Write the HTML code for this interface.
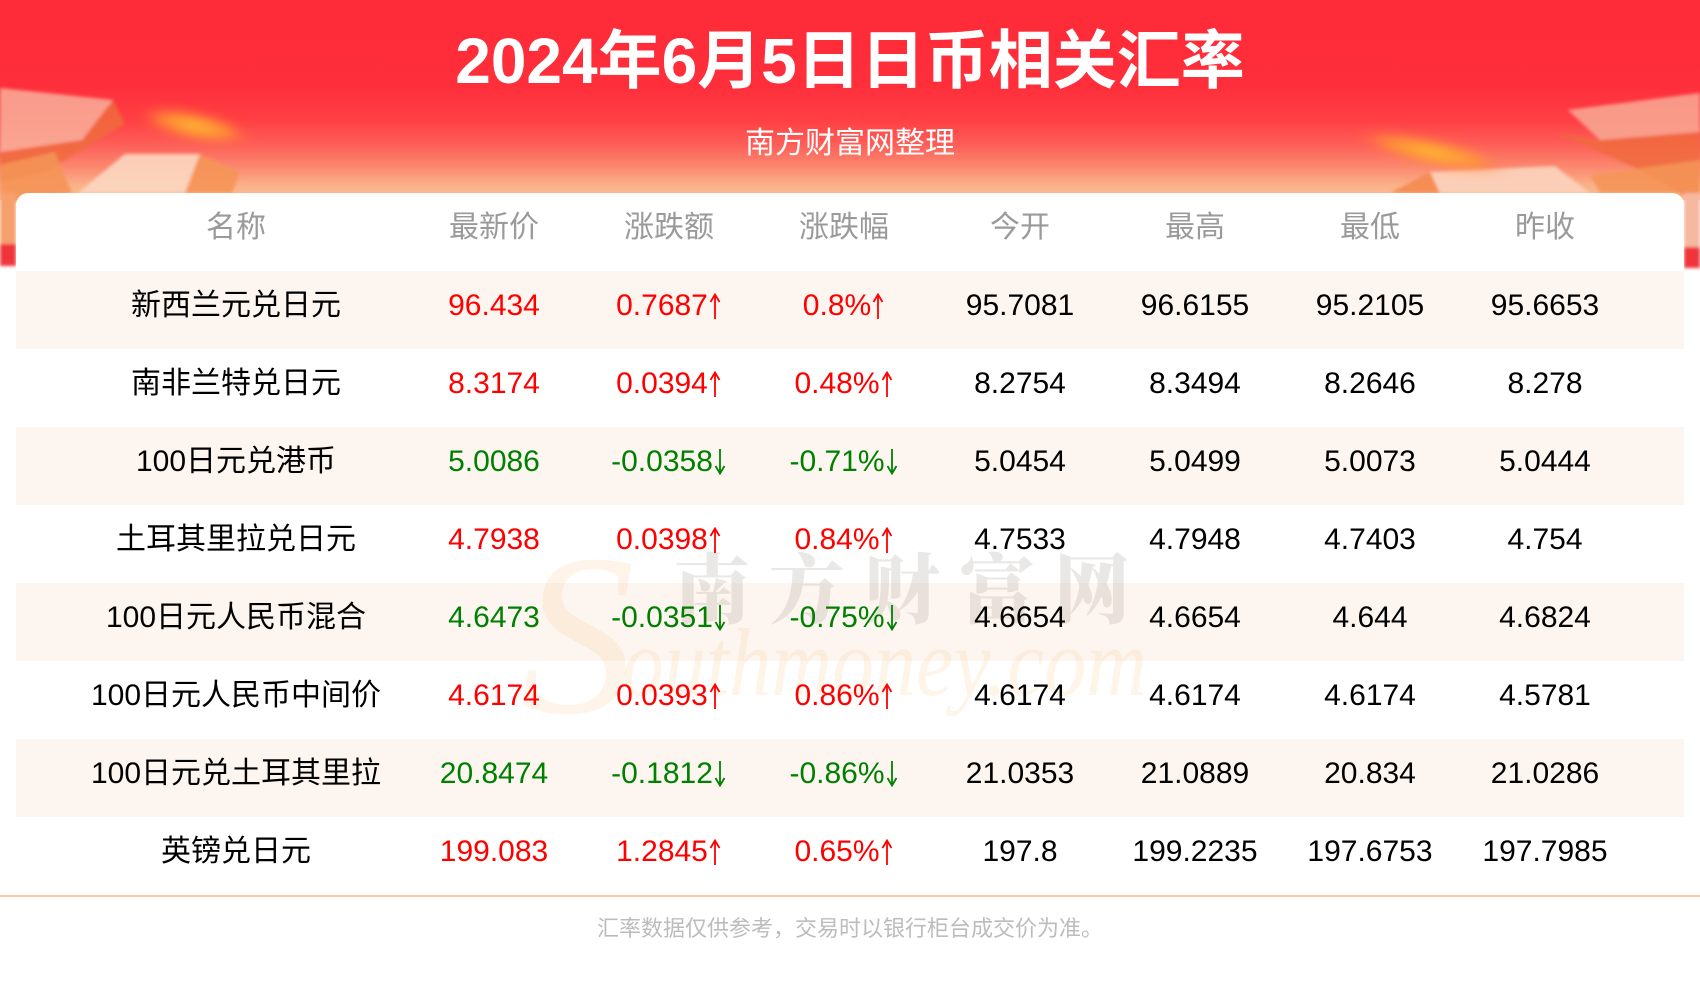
<!DOCTYPE html>
<html><head><meta charset="utf-8">
<style>
*{margin:0;padding:0;box-sizing:border-box;}
html,body{width:1700px;height:1000px;overflow:hidden;background:#fff;}
body{position:relative;font-family:"Liberation Sans","Noto Sans CJK SC",sans-serif;}
.hdr{position:absolute;left:0;top:0;width:1700px;height:200px;
 background:linear-gradient(to bottom,#fe2b38 0px,#fe2e3a 85px,#ff3f44 120px,#fd5f58 145px,#fb8a70 168px,#fab088 185px,#fbc292 200px);}
.title{position:absolute;left:0;width:1700px;top:29px;text-align:center;color:#fff;font-size:64px;line-height:64px;font-weight:700;white-space:nowrap;}
.sub{position:absolute;left:0;width:1700px;top:129px;text-align:center;color:#fff;font-size:30px;line-height:30px;white-space:nowrap;}
.card{position:absolute;left:16px;top:193px;width:1668px;height:705px;background:#fff;border-radius:12px 12px 0 0;}
.row{position:absolute;left:16px;width:1668px;height:78px;}
.stripe{background:#fdf6f0;}
.c{position:absolute;width:320px;text-align:center;font-size:30px;line-height:70px;white-space:nowrap;color:#000;}
.h{color:#9a9a9a;}
.r{color:#ff0000;}
.g{color:#008000;}
.a{display:inline-block;width:14px;height:26px;vertical-align:-4px;}
.a svg{display:block;width:14px;height:26px;}
.line{position:absolute;left:0;top:895px;width:1700px;height:2px;background:#fccb9b;}
.foot{position:absolute;left:0;width:1700px;top:918px;text-align:center;color:#bcbcbc;font-size:22px;line-height:22px;white-space:nowrap;}
.wm1{position:absolute;left:674px;top:540px;font-family:"Noto Serif CJK SC","Liberation Serif",serif;font-weight:900;font-size:76px;line-height:90px;letter-spacing:19px;color:rgba(60,50,40,0.11);white-space:nowrap;}
.wm2{position:absolute;left:622px;top:612px;font-family:"Liberation Serif",serif;font-style:italic;font-size:84px;line-height:90px;color:rgba(250,190,120,0.17);white-space:nowrap;transform:scaleY(1.15);transform-origin:left top;}
.wm3{position:absolute;left:520px;top:520px;font-family:"Liberation Serif",serif;font-style:italic;font-size:230px;line-height:230px;color:rgba(250,180,100,0.14);}
</style></head>
<body>
<svg width="0" height="0" style="position:absolute">
<defs>
<symbol id="up" viewBox="0 0 14 26"><line x1="7" y1="2" x2="7" y2="26" stroke="currentColor" stroke-width="1.8"/><polyline points="2.5,9 7,1.5 11.5,9" fill="none" stroke="currentColor" stroke-width="1.8"/></symbol>
<symbol id="dn" viewBox="0 0 14 26"><line x1="7" y1="0" x2="7" y2="24" stroke="currentColor" stroke-width="1.8"/><polyline points="2.5,17 7,24.5 11.5,17" fill="none" stroke="currentColor" stroke-width="1.8"/></symbol>
</defs>
</svg>
<div class="hdr"></div>
<svg style="position:absolute;left:0;top:0" width="1700" height="280" viewBox="0 0 1700 280">
<defs>
<filter id="bl" x="-50%" y="-50%" width="200%" height="200%"><feGaussianBlur stdDeviation="5"/></filter>
<filter id="bl2" x="-20%" y="-20%" width="140%" height="140%"><feGaussianBlur stdDeviation="1.5"/></filter>
<radialGradient id="glow"><stop offset="0" stop-color="#ffc030"/><stop offset="0.6" stop-color="#ff9a30" stop-opacity="0.8"/><stop offset="1" stop-color="#ff7040" stop-opacity="0"/></radialGradient>
</defs>
<g filter="url(#bl2)">
<polygon points="0,88 113,100 82,140 0,152" fill="#f9b5a0" opacity="0.8"/>
<polygon points="113,100 125,124 45,172 0,182 0,152 82,140" fill="#f06a3c" opacity="0.85"/>
<polygon points="0,165 55,152 72,193 0,205" fill="#f59356" opacity="0.9"/>
<polygon points="78,193 125,154 200,154 185,193" fill="#fcd7c0" opacity="0.9"/>
<polygon points="200,154 240,172 232,193 185,193" fill="#f69458" opacity="0.9"/>
<rect x="0" y="193" width="16" height="52" fill="#f6a06e"/>
<rect x="0" y="244" width="16" height="22" fill="#ef343a"/>
</g>
<ellipse cx="195" cy="126" rx="58" ry="15" transform="rotate(12 195 126)" fill="url(#glow)" filter="url(#bl)"/>
<g filter="url(#bl2)">
<polygon points="1568,110 1700,93 1700,132 1600,140" fill="#f8b09a" opacity="0.8"/>
<polygon points="1558,133 1600,140 1700,132 1700,205 1640,170" fill="#f06a3c" opacity="0.85"/>
<polygon points="1430,172 1555,166 1590,193 1440,193" fill="#fcd3bc" opacity="0.9"/>
<polygon points="1390,193 1430,172 1440,193" fill="#f58a50" opacity="0.9"/>
<polygon points="1590,175 1700,160 1700,193 1600,193" fill="#f59356" opacity="0.9"/>
<rect x="1684" y="193" width="16" height="55" fill="#f7b8a0"/>
<rect x="1684" y="247" width="16" height="21" fill="#ef343a"/>
</g>
<ellipse cx="1432" cy="152" rx="78" ry="14" transform="rotate(12 1432 152)" fill="url(#glow)" filter="url(#bl)"/>
</svg>
<div class="title">2024年6月5日日币相关汇率</div>
<div class="sub">南方财富网整理</div>
<div class="card"></div>

<div class="row stripe" style="top:271px"></div>
<div class="row stripe" style="top:427px"></div>
<div class="row stripe" style="top:583px"></div>
<div class="row stripe" style="top:739px"></div>

<div class="wm3">S</div>
<div class="wm2">outhmoney.com</div>
<div class="wm1">南方财富网</div>

<div class="c h" style="top:193px;left:76px">名称</div>
<div class="c h" style="top:193px;left:334px">最新价</div>
<div class="c h" style="top:193px;left:509px">涨跌额</div>
<div class="c h" style="top:193px;left:684px">涨跌幅</div>
<div class="c h" style="top:193px;left:860px">今开</div>
<div class="c h" style="top:193px;left:1035px">最高</div>
<div class="c h" style="top:193px;left:1210px">最低</div>
<div class="c h" style="top:193px;left:1385px">昨收</div>

<div class="c" style="top:271px;left:76px">新西兰元兑日元</div>
<div class="c r" style="top:271px;left:334px">96.434</div>
<div class="c r" style="top:271px;left:509px">0.7687<span class="a"><svg><use href="#up"/></svg></span></div>
<div class="c r" style="top:271px;left:684px">0.8%<span class="a"><svg><use href="#up"/></svg></span></div>
<div class="c" style="top:271px;left:860px">95.7081</div>
<div class="c" style="top:271px;left:1035px">96.6155</div>
<div class="c" style="top:271px;left:1210px">95.2105</div>
<div class="c" style="top:271px;left:1385px">95.6653</div>

<div class="c" style="top:349px;left:76px">南非兰特兑日元</div>
<div class="c r" style="top:349px;left:334px">8.3174</div>
<div class="c r" style="top:349px;left:509px">0.0394<span class="a"><svg><use href="#up"/></svg></span></div>
<div class="c r" style="top:349px;left:684px">0.48%<span class="a"><svg><use href="#up"/></svg></span></div>
<div class="c" style="top:349px;left:860px">8.2754</div>
<div class="c" style="top:349px;left:1035px">8.3494</div>
<div class="c" style="top:349px;left:1210px">8.2646</div>
<div class="c" style="top:349px;left:1385px">8.278</div>

<div class="c" style="top:427px;left:76px">100日元兑港币</div>
<div class="c g" style="top:427px;left:334px">5.0086</div>
<div class="c g" style="top:427px;left:509px">-0.0358<span class="a"><svg><use href="#dn"/></svg></span></div>
<div class="c g" style="top:427px;left:684px">-0.71%<span class="a"><svg><use href="#dn"/></svg></span></div>
<div class="c" style="top:427px;left:860px">5.0454</div>
<div class="c" style="top:427px;left:1035px">5.0499</div>
<div class="c" style="top:427px;left:1210px">5.0073</div>
<div class="c" style="top:427px;left:1385px">5.0444</div>

<div class="c" style="top:505px;left:76px">土耳其里拉兑日元</div>
<div class="c r" style="top:505px;left:334px">4.7938</div>
<div class="c r" style="top:505px;left:509px">0.0398<span class="a"><svg><use href="#up"/></svg></span></div>
<div class="c r" style="top:505px;left:684px">0.84%<span class="a"><svg><use href="#up"/></svg></span></div>
<div class="c" style="top:505px;left:860px">4.7533</div>
<div class="c" style="top:505px;left:1035px">4.7948</div>
<div class="c" style="top:505px;left:1210px">4.7403</div>
<div class="c" style="top:505px;left:1385px">4.754</div>

<div class="c" style="top:583px;left:76px">100日元人民币混合</div>
<div class="c g" style="top:583px;left:334px">4.6473</div>
<div class="c g" style="top:583px;left:509px">-0.0351<span class="a"><svg><use href="#dn"/></svg></span></div>
<div class="c g" style="top:583px;left:684px">-0.75%<span class="a"><svg><use href="#dn"/></svg></span></div>
<div class="c" style="top:583px;left:860px">4.6654</div>
<div class="c" style="top:583px;left:1035px">4.6654</div>
<div class="c" style="top:583px;left:1210px">4.644</div>
<div class="c" style="top:583px;left:1385px">4.6824</div>

<div class="c" style="top:661px;left:76px">100日元人民币中间价</div>
<div class="c r" style="top:661px;left:334px">4.6174</div>
<div class="c r" style="top:661px;left:509px">0.0393<span class="a"><svg><use href="#up"/></svg></span></div>
<div class="c r" style="top:661px;left:684px">0.86%<span class="a"><svg><use href="#up"/></svg></span></div>
<div class="c" style="top:661px;left:860px">4.6174</div>
<div class="c" style="top:661px;left:1035px">4.6174</div>
<div class="c" style="top:661px;left:1210px">4.6174</div>
<div class="c" style="top:661px;left:1385px">4.5781</div>

<div class="c" style="top:739px;left:76px">100日元兑土耳其里拉</div>
<div class="c g" style="top:739px;left:334px">20.8474</div>
<div class="c g" style="top:739px;left:509px">-0.1812<span class="a"><svg><use href="#dn"/></svg></span></div>
<div class="c g" style="top:739px;left:684px">-0.86%<span class="a"><svg><use href="#dn"/></svg></span></div>
<div class="c" style="top:739px;left:860px">21.0353</div>
<div class="c" style="top:739px;left:1035px">21.0889</div>
<div class="c" style="top:739px;left:1210px">20.834</div>
<div class="c" style="top:739px;left:1385px">21.0286</div>

<div class="c" style="top:817px;left:76px">英镑兑日元</div>
<div class="c r" style="top:817px;left:334px">199.083</div>
<div class="c r" style="top:817px;left:509px">1.2845<span class="a"><svg><use href="#up"/></svg></span></div>
<div class="c r" style="top:817px;left:684px">0.65%<span class="a"><svg><use href="#up"/></svg></span></div>
<div class="c" style="top:817px;left:860px">197.8</div>
<div class="c" style="top:817px;left:1035px">199.2235</div>
<div class="c" style="top:817px;left:1210px">197.6753</div>
<div class="c" style="top:817px;left:1385px">197.7985</div>

<div class="line"></div>
<div class="foot">汇率数据仅供参考，交易时以银行柜台成交价为准。</div>
</body></html>
